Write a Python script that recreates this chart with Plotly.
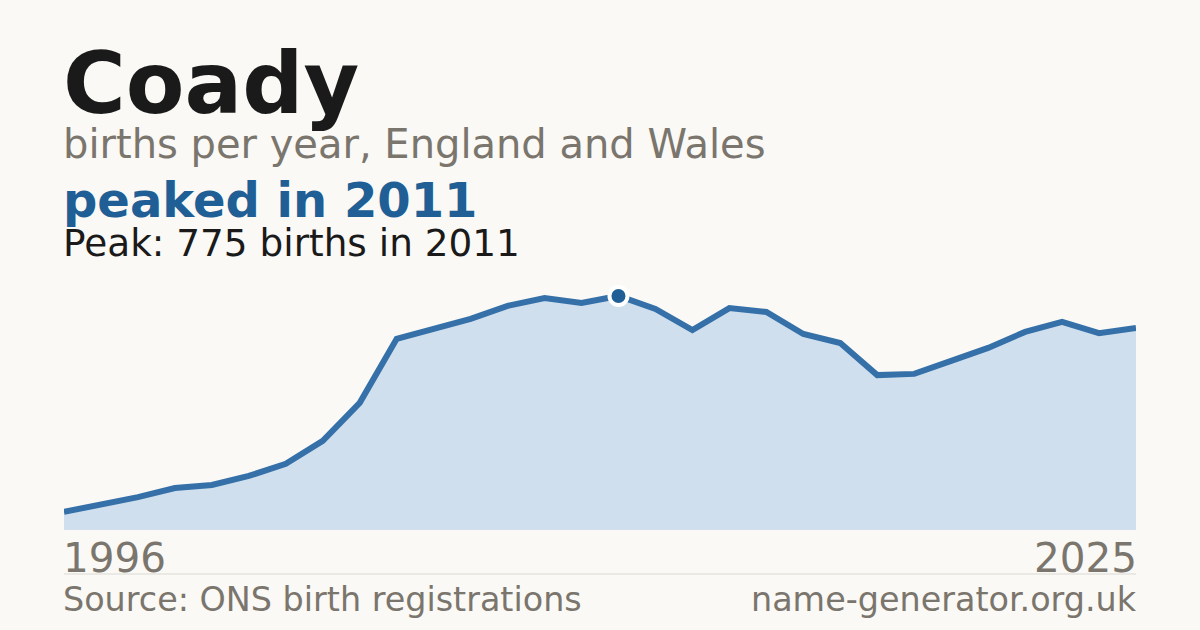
import plotly.graph_objects as go

# данные
years = list(range(1996, 2026))
births = [60, 83, 109, 139, 149, 179, 219, 295, 421, 633,
          666, 699, 742, 768, 752, 775, 732, 662, 735, 722,
          649, 619, 513, 517, 560, 603, 656, 689, 652, 669]

name = 'Coady'
subtitle = 'births per year, England and Wales'
headline = 'peaked in 2011'
source = 'Source: ONS birth registrations'
site = 'name-generator.org.uk'

W, H = 1200, 630
bg = '#faf9f5'
blue = '#1f5f96'
grey = '#7a756d'
font = 'DejaVu Sans'

peak = max(births)
peak_year = years[births.index(peak)]

LEFT = 61 / W    # с поправкой на отступ подписи
RIGHT = 1139 / W


def py(pix):
    # пиксели сверху -> координаты paper
    return (H - pix) / H


fig = go.Figure()

fig.add_trace(go.Scatter(x=years, y=births,
                         mode='lines',
                         fill='tozeroy',
                         fillcolor='#cfdfee',
                         line=dict(color='#3570a8', width=6),
                         hoverinfo='skip'))

fig.add_trace(go.Scatter(x=[peak_year], y=[peak],
                         mode='markers',
                         marker=dict(size=18, color=blue,
                                     line=dict(color='white', width=4)),
                         hoverinfo='skip'))

texts = [
    (name, 85.5, '#1a1a1a', True, 84),
    (subtitle, 40, grey, False, 144),
    (headline, 48, blue, True, 200),
    (f'Peak: {peak} births in {peak_year}', 37.4, '#1a1a1a', False, 243),
]
for txt, size, color, bold, ypix in texts:
    fig.add_annotation(text=f'<b>{txt}</b>' if bold else txt,
                       xref='paper', yref='paper', x=LEFT, y=py(ypix),
                       xanchor='left', yanchor='middle', showarrow=False,
                       font=dict(family=font, size=size, color=color))

fig.add_annotation(text=str(years[0]), xref='paper', yref='paper',
                   x=LEFT, y=py(558), xanchor='left', yanchor='middle',
                   showarrow=False, font=dict(family=font, size=40.5, color=grey))
fig.add_annotation(text=str(years[-1]), xref='paper', yref='paper',
                   x=RIGHT, y=py(558), xanchor='right', yanchor='middle',
                   showarrow=False, font=dict(family=font, size=40.5, color=grey))
fig.add_annotation(text=source, xref='paper', yref='paper',
                   x=LEFT, y=py(599), xanchor='left', yanchor='middle',
                   showarrow=False, font=dict(family=font, size=33.4, color=grey))
fig.add_annotation(text=site, xref='paper', yref='paper',
                   x=RIGHT, y=py(599), xanchor='right', yanchor='middle',
                   showarrow=False, font=dict(family=font, size=33.4, color=grey))

# разделитель
fig.add_shape(type='line', xref='paper', yref='paper',
              x0=64 / W, x1=1136 / W, y0=py(574), y1=py(574),
              line=dict(color='#dcd9d2', width=1))

# настройки:
fig.update_layout(width=W, height=H,
                  margin=dict(l=0, r=0, t=0, b=0),
                  paper_bgcolor=bg, plot_bgcolor=bg,
                  showlegend=False,
                  xaxis=dict(domain=[64 / W, 1136 / W], range=[years[0], years[-1]],
                             visible=False, fixedrange=True),
                  yaxis=dict(domain=[py(530), py(270)], range=[0, 861],
                             visible=False, fixedrange=True))

fig.write_html('out.html', config={'displayModeBar': False},
               post_script="document.body.style.margin='0';document.body.style.background='%s';" % bg)
